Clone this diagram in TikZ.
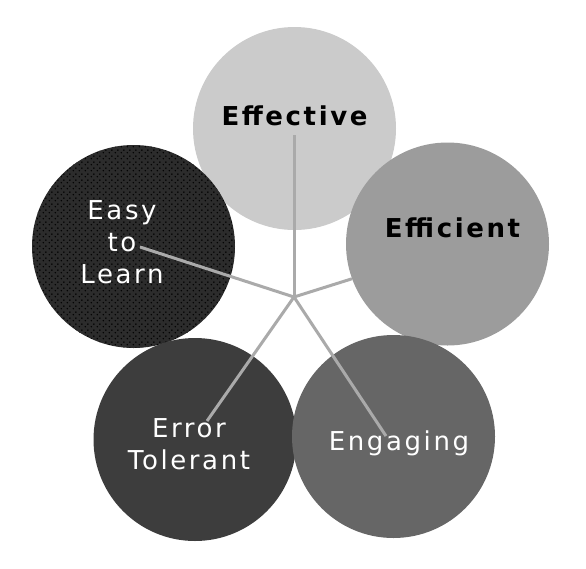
\documentclass[tikz,border=0pt]{standalone}
\usepackage{fontspec}
\setmainfont{DejaVu Sans}
\newfontfamily\lblfont[LetterSpace=10]{DejaVu Sans}
\usetikzlibrary{patterns}
\pgfdeclarepatternformonly{mydots}{\pgfqpoint{0pt}{0pt}}{\pgfqpoint{6pt}{6pt}}{\pgfqpoint{6pt}{6pt}}{%
  \pgfpathcircle{\pgfqpoint{1.5pt}{1.5pt}}{0.9pt}%
  \pgfpathcircle{\pgfqpoint{4.5pt}{4.5pt}}{0.9pt}%
  \pgfusepath{fill}}
\definecolor{cEff}{HTML}{CBCBCB}
\definecolor{cEfc}{HTML}{9C9C9C}
\definecolor{cEng}{HTML}{666666}
\definecolor{cErr}{HTML}{3D3D3D}
\definecolor{cEasy}{HTML}{2C2C2C}
\definecolor{spoke}{HTML}{AAAAAA}
\tikzset{
  disc/.style={circle, inner sep=0pt, minimum size=203pt, draw=none},
  spk/.style={draw=spoke, line width=3pt},
  lbl/.style={inner sep=0pt, font=\lblfont\fontsize{26}{32}\selectfont, align=center},
  lblw/.style={lbl, text=white},
  lblb/.style={lbl, text=black, font=\lblfont\bfseries\fontsize{26}{32}\selectfont}
}
\begin{document}
\begin{tikzpicture}[x=1pt, y=-1pt]
\useasboundingbox (0,0) rectangle (586,568);
% circles
\node[disc, fill=cEff] (cirEff) at (294.5,128.5) {};
\node[disc, fill=cEasy, postaction={pattern=mydots, pattern color=black}] (cirEasy) at (133.5,246.5) {};
\node[disc, fill=cEfc] (cirEfc) at (447.5,244) {};
\node[disc, fill=cErr] (cirErr) at (195,439.5) {};
\node[disc, fill=cEng] (cirEng) at (393.5,436.5) {};
% hub and spoke ends
\coordinate (hub) at (294,297);
\coordinate (eEff) at (294,135);
\coordinate (eEasy) at (140,247);
\coordinate (eEng) at (386,436);
\coordinate (eErr) at (207,421);
\draw[spk] (hub) -- (eEff);
\draw[spk] (hub) -- (eEasy);
\draw[spk] (hub) -- (cirEfc.200);
\draw[spk] (hub) -- (eEng);
\draw[spk] (hub) -- (eErr);
% labels
\node[lblb, anchor=base] (tEff) at (294.5,125) {Effective};
\node[lblb, anchor=base] (tEfc) at (452.5,237) {Efficient};
\node[lblw] (tEasy) at (122,242) {Easy\\to\\Learn};
\node[lblw] (tErr) at (189,444.5) {Error\\Tolerant};
\node[lblw, anchor=base] (tEng) at (399,450) {Engaging};
\end{tikzpicture}
\end{document}
